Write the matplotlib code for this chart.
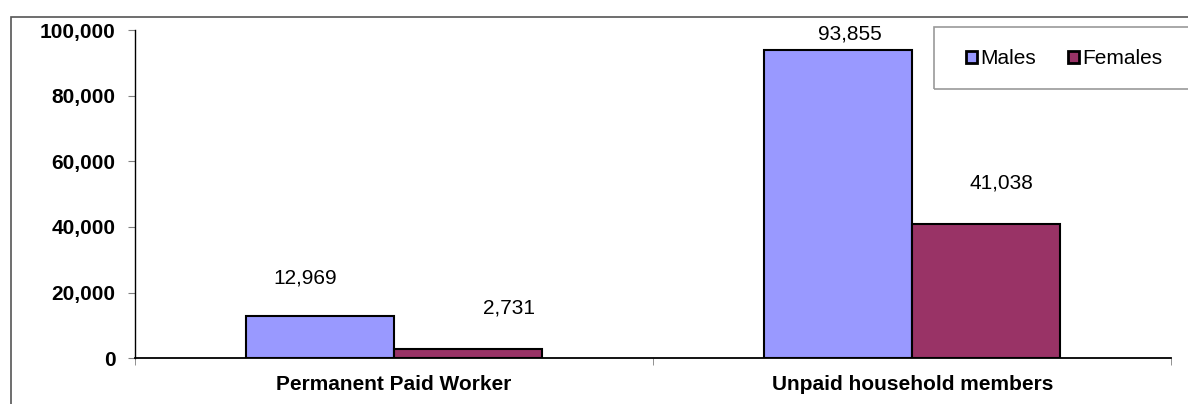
import numpy as np
import matplotlib.pyplot as plt
from matplotlib.patches import Rectangle
from matplotlib.ticker import FuncFormatter

plt.rcParams['font.family'] = ['Liberation Sans', 'DejaVu Sans']

categories = ["Permanent Paid Worker", "Unpaid household members"]
males = [12969, 93855]
females = [2731, 41038]

# label offsets in points (x, y) - the original labels sit a bit off centre
male_offsets = [(-10.8, 27), (8.6, 12)]
female_offsets = [(29.5, 30), (10.8, 29.5)]

fig = plt.figure(figsize=(11.88, 4.04), dpi=100)
ax = fig.add_axes([0.1136, 0.1131, 0.9861 - 0.1136, 0.9257 - 0.1131])

x = np.arange(len(categories))
w = 0.2855
b1 = ax.bar(x - w/2, males, w, color='#9999FF', edgecolor='black', linewidth=1.5, label='Males')
b2 = ax.bar(x + w/2, females, w, color='#993366', edgecolor='black', linewidth=1.5, label='Females')

for rect, v, off in zip(b1, males, male_offsets):
    ax.annotate(f"{v:,}", (rect.get_x() + rect.get_width()/2, v), xytext=off,
                textcoords='offset points', ha='center', va='center', fontsize=15)
for rect, v, off in zip(b2, females, female_offsets):
    ax.annotate(f"{v:,}", (rect.get_x() + rect.get_width()/2, v), xytext=off,
                textcoords='offset points', ha='center', va='center', fontsize=15)

ax.set_xlim(-0.5, 1.5)
ax.set_ylim(0, 100000)
ax.set_yticks(np.arange(0, 100001, 20000))
ax.yaxis.set_major_formatter(FuncFormatter(lambda v, p: f"{int(v):,}"))
ax.set_xticks(x)
ax.set_xticklabels(categories, fontweight='bold', fontsize=15)
ax.set_xticks([-0.5, 0.5, 1.5], minor=True)
ax.tick_params(axis='x', which='major', length=0, pad=12)
ax.tick_params(axis='x', which='minor', length=5, color='#808080', direction='out')
ax.tick_params(axis='y', length=5, color='#808080', pad=9, labelsize=15)
for lab in ax.get_yticklabels():
    lab.set_fontweight('bold')

for s in ['top', 'right']:
    ax.spines[s].set_visible(False)
ax.spines['left'].set_linewidth(1.0)
ax.spines['bottom'].set_linewidth(1.3)

leg = ax.legend(loc='center left', bbox_to_anchor=(966/1188, 1 - 59/404),
                bbox_transform=fig.transFigure, ncol=2, fontsize=15, frameon=False,
                handlelength=0.55, handleheight=0.55, handletextpad=0.15,
                columnspacing=1.5, borderpad=0, borderaxespad=0)
for h in leg.legend_handles:
    h.set_linewidth(2)

# legend box, runs off the right edge like the original
fig.patches.append(Rectangle((934/1188, 1 - 89/404), 0.3, 62/404, transform=fig.transFigure,
                             fill=False, edgecolor='#999999', linewidth=1.2))
# outer chart border (runs off the right and bottom edge)
fig.patches.append(Rectangle((11/1188, -0.05), 1.1, 1 - 17/404 + 0.05, transform=fig.transFigure,
                             fill=False, edgecolor='#555555', linewidth=1.2))

fig.savefig('out.png', dpi=100)
